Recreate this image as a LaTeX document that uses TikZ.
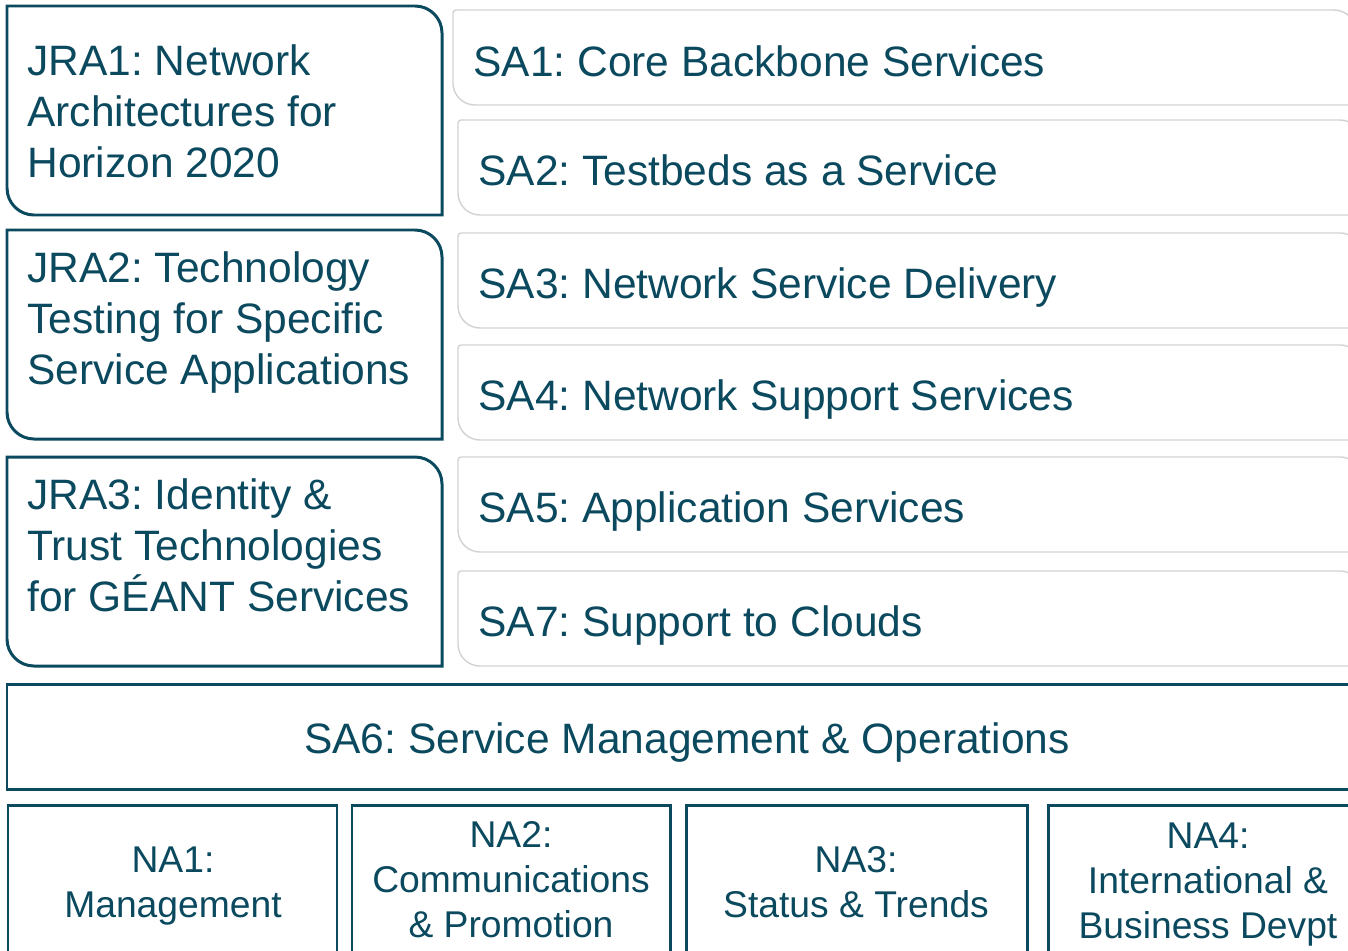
\documentclass[tikz,border=0pt]{standalone}
\usepackage{fontspec}
\setmainfont{Liberation Sans}
\usetikzlibrary{positioning}
\frenchspacing
\definecolor{geant}{RGB}{11,73,94}
\definecolor{paleline}{RGB}{210,210,210}
\tikzset{
  jraline/.style={draw=geant, line width=1.7pt, line cap=rect},
  saline/.style={draw=paleline, line width=0.8pt},
  naline/.style={draw=geant, line width=1.7pt},
  bigtext/.style={text=geant, inner sep=0pt, font=\fontsize{24.2}{28.9}\selectfont},
  jratext/.style={bigtext, align=left, anchor=base west},
  satext/.style={bigtext, anchor=base west},
  natext/.style={text=geant, inner sep=0pt, font=\fontsize{21.2}{25.5}\selectfont, align=center, anchor=base},
}
\begin{document}
\begin{tikzpicture}[x=0.02cm, y=-0.02cm]
\useasboundingbox (0,0) rectangle (1348,950);
\clip (0,0) rectangle (1348,950);
% JRA boxes
\foreach \t/\b in {6/215, 230/439, 457/666}
  \draw[jraline] (7,\t) [rounded corners=0.54cm] -- (442,\t) -- (442,\b)
                 (442,\b) -- (7,\b) -- (7,\t);
% SA boxes
\foreach \x/\r/\t/\b in {453/1356/10/105, 458/1362/120/215, 458/1362/233/328,
                         458/1362/345/440, 458/1362/457/552, 458/1362/571/666}
  \draw[saline] (\r,\b) [rounded corners=0.44cm] -- (\x,\b)
                [rounded corners=0.06cm] -- (\x,\t)
                [rounded corners=0.44cm] -- (\r,\t) -- (\r,\b);
% SA6 and NA boxes
\draw[naline] (7,684) rectangle (1390,789);
\foreach \l/\r in {8/337, 352/670, 686/1027, 1048/1390}
  \draw[naline] (\l,805) rectangle (\r,1000);
% nodes (base = last line)
\node[jratext] (jra1) at (27,177) {JRA1: Network\\Architectures for\\Horizon 2020};
\node[jratext] (jra2) at (27,384) {JRA2: Technology\\Testing for Specific\\Service Applications};
\node[jratext] (jra3) at (27,611) {JRA3: Identity \&\\Trust Technologies\\for GÉANT Services};
\node[satext] (sa1) at (473,76) {SA1: Core Backbone Services};
\node[satext] (sa2) at (478,185) {SA2: Testbeds as a Service};
\node[satext] (sa3) at (478,298) {SA3: Network Service Delivery};
\node[satext] (sa4) at (478,410) {SA4: Network Support Services};
\node[satext] (sa5) at (478,522) {SA5: Application Services};
\node[satext] (sa7) at (478,636) {SA7: Support to Clouds};
\node[bigtext, anchor=base] (sa6) at (687,753) {SA6: Service Management \& Operations};
\node[natext] (na1) at (173,917) {NA1:\\Management};
\node[natext] (na2) at (511,937) {NA2:\\Communications\\\& Promotion};
\node[natext] (na3) at (856,917) {NA3:\\Status \& Trends};
\node[natext] (na4) at (1208,938) {NA4:\\International \&\\Business Devpt};
\end{tikzpicture}
\end{document}
